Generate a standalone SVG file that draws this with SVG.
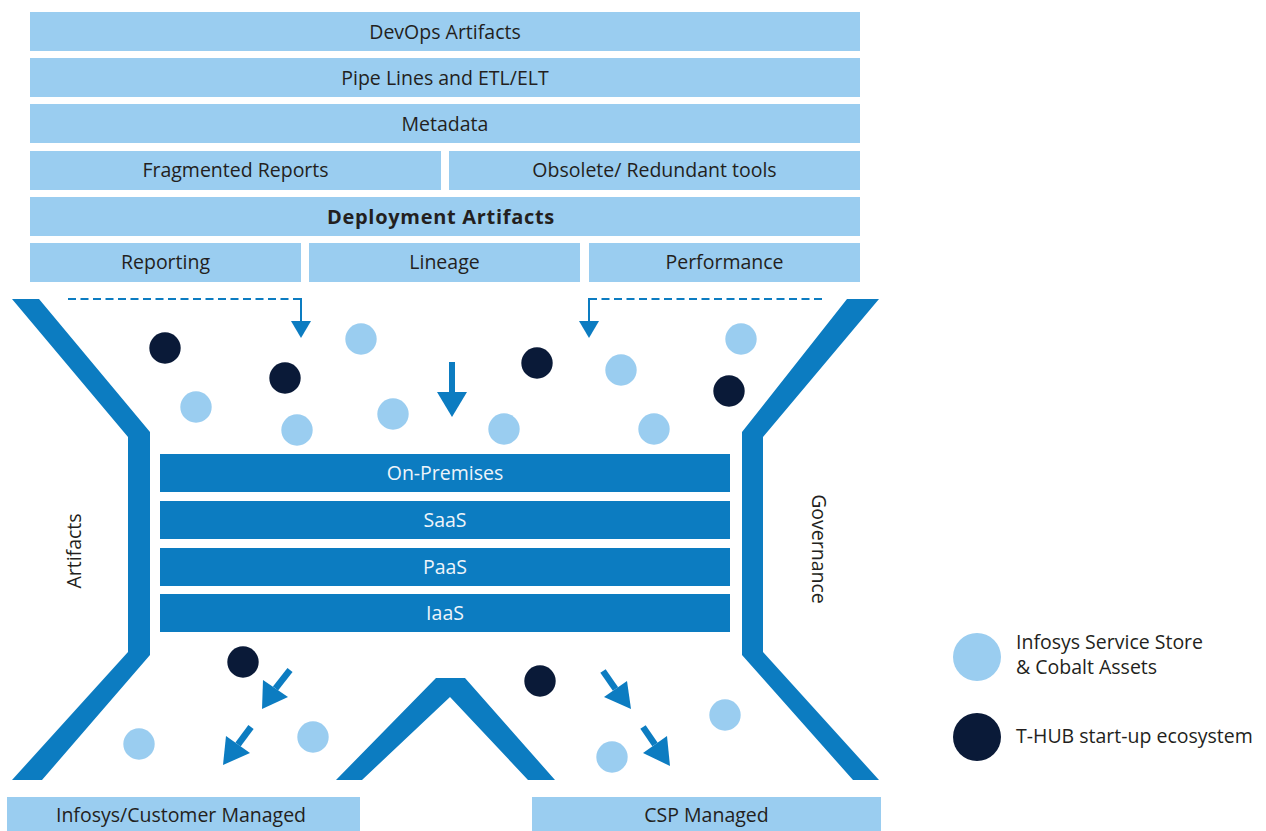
<svg xmlns="http://www.w3.org/2000/svg" width="1266" height="831" viewBox="0 0 1266 831">
<style>
.lb{fill:#9acdf0}
.db{fill:#0c7cc1}
.nv{fill:#0a1a38}
.t{font-family:"Open Sans","Noto Sans","Liberation Sans",sans-serif;font-size:19.5px;fill:#231f20;text-anchor:middle}
.w{fill:#eef4fa}
.b{font-weight:bold;font-size:20px;letter-spacing:0.7px}
.lg{text-anchor:start}
.dash{stroke:#0c7cc1;stroke-width:2;fill:none;stroke-dasharray:8 4.5}
.sh{stroke:#0c7cc1;fill:none}
</style>
<rect width="1266" height="831" fill="#ffffff"/>

<g id="devops"><rect class="lb" x="30" y="12" width="830" height="39"/><text class="t" x="445" y="38.5">DevOps Artifacts</text></g>
<g id="pipelines"><rect class="lb" x="30" y="58" width="830" height="39"/><text class="t" x="445" y="84.5">Pipe Lines and ETL/ELT</text></g>
<g id="metadata"><rect class="lb" x="30" y="104" width="830" height="39"/><text class="t" x="445" y="130.5">Metadata</text></g>
<g id="fragmented"><rect class="lb" x="30" y="151" width="411" height="39"/><text class="t" x="235.5" y="177">Fragmented Reports</text></g>
<g id="obsolete"><rect class="lb" x="449" y="151" width="411" height="39"/><text class="t" x="654.5" y="177">Obsolete/ Redundant tools</text></g>
<g id="deployment"><rect class="lb" x="30" y="197" width="830" height="39"/><text class="t b" x="441" y="223.5">Deployment Artifacts</text></g>
<g id="reporting"><rect class="lb" x="30" y="243" width="271" height="39"/><text class="t" x="165.5" y="269">Reporting</text></g>
<g id="lineage"><rect class="lb" x="309" y="243" width="271" height="39"/><text class="t" x="444.5" y="269">Lineage</text></g>
<g id="performance"><rect class="lb" x="589" y="243" width="271" height="39"/><text class="t" x="724.5" y="269">Performance</text></g>

<g id="funnel-left"><polygon class="db" points="12,299 39,299 150,432 150,655 42,780 12,780 128,652 128,437"/><text class="t" transform="translate(80.5,551) rotate(-90)">Artifacts</text></g>
<g id="funnel-right"><polygon class="db" points="879,299 847,299 742,432 742,655 853,780 879,780 763,652 763,437"/><text class="t" transform="translate(811.5,549) rotate(90)">Governance</text></g>
<g id="funnel-middle"><polygon class="db" points="336,780 436,678 465,678 555,780 528,780 450,697 362,780"/></g>

<g id="on-premises"><rect class="db" x="160" y="454" width="570" height="38"/><text class="t w" x="445" y="479.5">On-Premises</text></g>
<g id="saas"><rect class="db" x="160" y="501" width="570" height="38"/><text class="t w" x="445" y="526.5">SaaS</text></g>
<g id="paas"><rect class="db" x="160" y="548" width="570" height="38"/><text class="t w" x="445" y="573.5">PaaS</text></g>
<g id="iaas"><rect class="db" x="160" y="594" width="570" height="38"/><text class="t w" x="445" y="619.5">IaaS</text></g>

<g id="infosys-managed"><rect class="lb" x="7" y="797" width="353" height="34"/><text class="t" x="181" y="821.5">Infosys/Customer Managed</text></g>
<g id="csp-managed"><rect class="lb" x="532" y="797" width="349" height="34"/><text class="t" x="706.5" y="821.5">CSP Managed</text></g>

<g id="assets">
<circle class="nv" cx="165" cy="348" r="15.7"/>
<circle class="nv" cx="285" cy="378" r="15.7"/>
<circle class="nv" cx="537" cy="363" r="15.7"/>
<circle class="nv" cx="729" cy="391" r="15.7"/>
<circle class="nv" cx="243" cy="662" r="15.7"/>
<circle class="nv" cx="540" cy="681" r="15.7"/>
<circle class="lb" cx="196" cy="407" r="15.7"/>
<circle class="lb" cx="297" cy="430" r="15.7"/>
<circle class="lb" cx="361" cy="339" r="15.7"/>
<circle class="lb" cx="393" cy="414" r="15.7"/>
<circle class="lb" cx="504" cy="429" r="15.7"/>
<circle class="lb" cx="621" cy="370" r="15.7"/>
<circle class="lb" cx="654" cy="429" r="15.7"/>
<circle class="lb" cx="741" cy="339" r="15.7"/>
<circle class="lb" cx="139" cy="744" r="15.7"/>
<circle class="lb" cx="313" cy="737" r="15.7"/>
<circle class="lb" cx="612" cy="757" r="15.7"/>
<circle class="lb" cx="725" cy="715" r="15.7"/>
</g>

<g id="legend">
<circle class="lb" cx="977" cy="657" r="24"/>
<text class="t lg" x="1016" y="649">Infosys Service Store</text>
<text class="t lg" x="1016" y="674">&amp; Cobalt Assets</text>
<circle class="nv" cx="977" cy="737" r="24"/>
<text class="t lg" x="1016" y="743">T-HUB start-up ecosystem</text>
</g>

<g id="connectors">
<polyline class="dash" points="68,299 301,299"/>
<line class="sh" x1="301" y1="298" x2="301" y2="322" stroke-width="2"/>
<polygon class="db" points="291,321 311,321 301,338"/>
<polyline class="dash" points="822,299 589,299"/>
<line class="sh" x1="589" y1="298" x2="589" y2="322" stroke-width="2"/>
<polygon class="db" points="579,321 599,321 589,338"/>
<line class="sh" x1="452" y1="362" x2="452" y2="393" stroke-width="6"/>
<polygon class="db" points="437,392 467,392 452,417"/>
<line class="sh" x1="290" y1="670" x2="275.5" y2="688.5" stroke-width="6.5"/>
<polygon class="db" points="263,680 288,697 262,709"/>
<line class="sh" x1="251" y1="727" x2="238" y2="744.5" stroke-width="6.5"/>
<polygon class="db" points="226,736 250,753 223,765"/>
<line class="sh" x1="603" y1="671" x2="615.5" y2="689" stroke-width="6.5"/>
<polygon class="db" points="604,697 627,681 631,709"/>
<line class="sh" x1="643" y1="727" x2="655" y2="744.5" stroke-width="6.5"/>
<polygon class="db" points="643,753 667,736 670,766"/>
</g>
</svg>
